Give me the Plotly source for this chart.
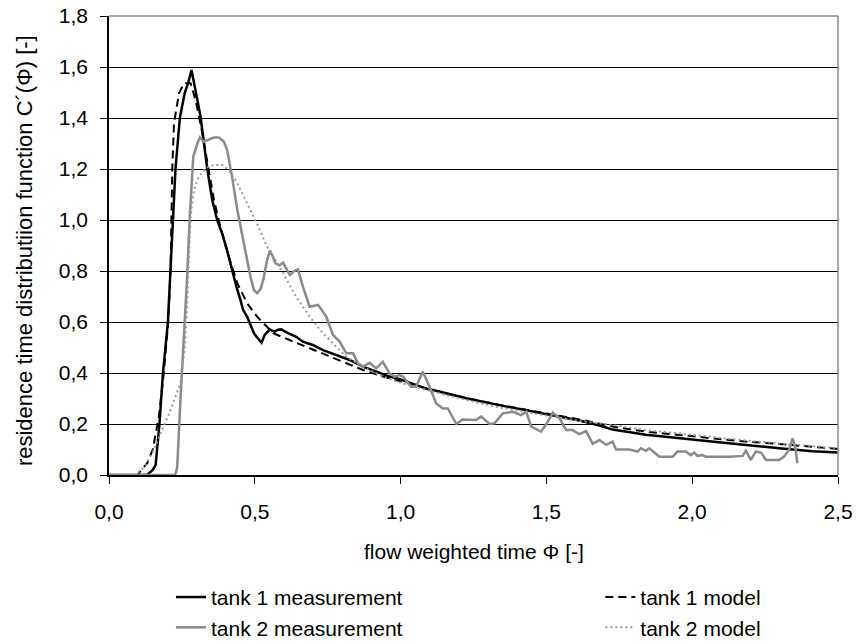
import plotly.graph_objects as go

# ---- data ----
phi_t1_meas = [0.0, 0.13, 0.15, 0.16, 0.173, 0.185, 0.202, 0.211, 0.218, 0.228, 0.243, 0.26, 0.272, 0.283,
               0.298, 0.314, 0.337, 0.354, 0.371, 0.39, 0.405, 0.422, 0.437, 0.451, 0.46, 0.474, 0.483, 0.497,
               0.506, 0.523, 0.534, 0.543, 0.551, 0.56, 0.568, 0.58, 0.591, 0.614, 0.642, 0.665, 0.699, 0.734,
               0.779, 0.825, 0.871, 0.916, 0.962, 1.0, 1.03, 1.098, 1.111, 1.225, 1.339, 1.454, 1.568, 1.613,
               1.682, 1.727, 1.841, 1.955, 2.07, 2.184, 2.298, 2.412, 2.5]
c_t1_meas = [0.0, 0.0, 0.02, 0.04, 0.2, 0.4, 0.6, 0.8, 1.0, 1.2, 1.4, 1.5, 1.54, 1.588,
             1.5, 1.405, 1.2, 1.078, 1.0, 0.94, 0.88, 0.8, 0.739, 0.686, 0.647, 0.62, 0.595, 0.556,
             0.542, 0.519, 0.549, 0.56, 0.571, 0.565, 0.562, 0.57, 0.571, 0.556, 0.542, 0.523, 0.51, 0.49,
             0.47, 0.451, 0.425, 0.405, 0.386, 0.375, 0.362, 0.335, 0.333, 0.301, 0.274, 0.248, 0.222, 0.214,
             0.194, 0.178, 0.158, 0.144, 0.131, 0.118, 0.105, 0.093, 0.088]

phi_t1_model = [0.0, 0.1, 0.106, 0.131, 0.15, 0.171, 0.188, 0.203, 0.211, 0.213, 0.217, 0.223, 0.24, 0.257,
                0.28, 0.297, 0.32, 0.342, 0.36, 0.382, 0.411, 0.44, 0.474, 0.508, 0.542, 0.563, 0.62, 0.677,
                0.734, 0.802, 0.871, 0.939, 1.0, 1.098, 1.225, 1.339, 1.454, 1.568, 1.613, 1.727, 1.841, 1.955,
                2.07, 2.184, 2.298, 2.412, 2.5]
c_t1_model = [0.0, 0.0, 0.013, 0.046, 0.1, 0.229, 0.4, 0.6, 0.8, 1.0, 1.2, 1.38, 1.497, 1.536,
              1.536, 1.47, 1.34, 1.196, 1.078, 0.974, 0.856, 0.752, 0.673, 0.621, 0.582, 0.556, 0.529, 0.503,
              0.477, 0.444, 0.412, 0.386, 0.368, 0.336, 0.302, 0.275, 0.25, 0.226, 0.218, 0.19, 0.17, 0.157,
              0.144, 0.131, 0.122, 0.111, 0.102]

phi_t2_meas = [0.0, 0.226, 0.23, 0.234, 0.245, 0.257, 0.268, 0.277, 0.283, 0.289, 0.303, 0.312, 0.325, 0.342,
               0.36, 0.377, 0.394, 0.405, 0.422, 0.44, 0.457, 0.471, 0.485, 0.497, 0.508, 0.52, 0.53, 0.542,
               0.552, 0.56, 0.571, 0.585, 0.597, 0.62, 0.635, 0.648, 0.665, 0.688, 0.703, 0.717, 0.745, 0.768,
               0.791, 0.814, 0.837, 0.854, 0.871, 0.894, 0.916, 0.939, 0.962, 0.979, 0.997, 1.008, 1.036, 1.053,
               1.076, 1.098, 1.122, 1.145, 1.162, 1.191, 1.213, 1.259, 1.276, 1.305, 1.322, 1.351, 1.385, 1.413,
               1.431, 1.448, 1.482, 1.505, 1.522, 1.545, 1.568, 1.59, 1.613, 1.636, 1.659, 1.682, 1.705, 1.727,
               1.739, 1.784, 1.813, 1.824, 1.841, 1.853, 1.887, 1.933, 1.95, 1.978, 1.995, 2.007, 2.018, 2.035,
               2.047, 2.127, 2.173, 2.184, 2.201, 2.218, 2.236, 2.253, 2.298, 2.315, 2.332, 2.344, 2.353, 2.361]
c_t2_meas = [0.0, 0.0, 0.01, 0.033, 0.294, 0.529, 0.778, 1.013, 1.144, 1.248, 1.3, 1.324, 1.307, 1.314,
             1.324, 1.324, 1.307, 1.275, 1.17, 1.039, 0.935, 0.86, 0.778, 0.725, 0.713, 0.73, 0.77, 0.843,
             0.88, 0.86, 0.83, 0.822, 0.833, 0.784, 0.8, 0.806, 0.739, 0.66, 0.664, 0.667, 0.621, 0.549,
             0.523, 0.477, 0.477, 0.438, 0.425, 0.44, 0.418, 0.444, 0.399, 0.386, 0.392, 0.386, 0.346, 0.346,
             0.405, 0.35, 0.281, 0.261, 0.261, 0.2, 0.218, 0.216, 0.229, 0.2, 0.203, 0.242, 0.248, 0.235,
             0.248, 0.19, 0.17, 0.209, 0.244, 0.222, 0.176, 0.176, 0.16, 0.172, 0.122, 0.137, 0.118, 0.131,
             0.1, 0.1, 0.092, 0.105, 0.095, 0.105, 0.072, 0.072, 0.092, 0.092, 0.078, 0.088, 0.075, 0.078,
             0.072, 0.072, 0.075, 0.095, 0.059, 0.092, 0.088, 0.059, 0.059, 0.072, 0.098, 0.144, 0.111, 0.046]

phi_t2_model = [0.0, 0.09, 0.12, 0.15, 0.177, 0.211, 0.245, 0.259, 0.266, 0.274, 0.28, 0.291, 0.308, 0.331,
                0.36, 0.388, 0.411, 0.44, 0.474, 0.508, 0.542, 0.551, 0.597, 0.642, 0.688, 0.734, 0.779, 0.814,
                0.871, 0.939, 1.008, 1.088, 1.111, 1.225, 1.339, 1.454, 1.568, 1.613, 1.727, 1.841, 1.955,
                2.07, 2.184, 2.298, 2.412, 2.5]
c_t2_model = [0.0, 0.0, 0.03, 0.09, 0.163, 0.255, 0.36, 0.49, 0.62, 0.817, 1.013, 1.118, 1.17, 1.203,
              1.216, 1.216, 1.196, 1.144, 1.065, 0.985, 0.895, 0.882, 0.791, 0.699, 0.621, 0.556, 0.503, 0.464,
              0.425, 0.386, 0.359, 0.333, 0.327, 0.294, 0.265, 0.242, 0.222, 0.212, 0.196, 0.176, 0.163,
              0.148, 0.135, 0.124, 0.114, 0.105]

x_tick_vals = [0.0, 0.5, 1.0, 1.5, 2.0, 2.5]
y_tick_vals = [0.0, 0.2, 0.4, 0.6, 0.8, 1.0, 1.2, 1.4, 1.6, 1.8]

FONT = "Liberation Sans, Arial, sans-serif"
FS = 21

fig = go.Figure()
fig.add_trace(go.Scatter(x=phi_t1_meas, y=c_t1_meas, mode="lines", name="tank 1 measurement",
                         legend="legend", line=dict(color="black", width=2.5)))
fig.add_trace(go.Scatter(x=phi_t1_model, y=c_t1_model, mode="lines", name="tank 1 model",
                         legend="legend2", line=dict(color="black", width=2, dash="8px,5px")))
fig.add_trace(go.Scatter(x=phi_t2_meas, y=c_t2_meas, mode="lines", name="tank 2 measurement",
                         legend="legend", line=dict(color="#8a8a8a", width=2.5)))
fig.add_trace(go.Scatter(x=phi_t2_model, y=c_t2_model, mode="lines", name="tank 2 model",
                         legend="legend2", line=dict(color="#999999", width=2, dash="2px,3px")))

legend_common = dict(orientation="v", yanchor="top", xanchor="left", font=dict(size=FS),
                     bgcolor="rgba(0,0,0,0)", borderwidth=0, tracegroupgap=0)

fig.update_layout(
    width=856, height=644,
    margin=dict(l=109, r=18, t=16, b=169, autoexpand=False),
    paper_bgcolor="white", plot_bgcolor="white",
    separators=",.",
    font=dict(family=FONT, size=FS, color="black"),
    showlegend=True,
    legend=dict(x=0.085, y=-0.222, **legend_common),
    legend2=dict(x=0.674, y=-0.222, **legend_common),
    xaxis=dict(range=[0, 2.5], tickvals=x_tick_vals, tickformat=".1f", showgrid=False,
               showline=True, linecolor="black", linewidth=1.5, ticks="outside", ticklen=7,
               tickcolor="black", tickwidth=1, zeroline=False, ticklabelstandoff=10,
               tickfont=dict(size=FS)),
    yaxis=dict(range=[0, 1.8], tickvals=y_tick_vals, tickformat=".1f", showgrid=True,
               gridcolor="black", gridwidth=1, showline=True, linecolor="black", linewidth=1.5,
               ticks="outside", ticklen=7, tickcolor="black", tickwidth=1, zeroline=False,
               ticklabelstandoff=8, tickfont=dict(size=FS)),
    shapes=[
        dict(type="line", xref="paper", yref="paper", x0=0, x1=1, y0=1, y1=1,
             line=dict(color="#8c8c8c", width=1.5)),
        dict(type="line", xref="paper", yref="paper", x0=1, x1=1, y0=0, y1=1,
             line=dict(color="#8c8c8c", width=1.5)),
    ],
    annotations=[
        dict(text="flow weighted time Φ [-]", xref="paper", yref="paper", x=0.5, y=-0.1656,
             xanchor="center", yanchor="middle", showarrow=False, font=dict(size=FS)),
        dict(text="residence time distributiion function C´(Φ) [-]", xref="paper", yref="paper",
             x=-0.1166, y=0.49, xanchor="center", yanchor="middle", textangle=-90,
             showarrow=False, font=dict(size=22)),
    ],
)

fig.write_html(
    "out.html",
    config={"displayModeBar": False},
    post_script="document.documentElement.style.overflow='hidden';"
                "document.body.style.margin='0px';document.body.style.overflow='hidden';",
)
